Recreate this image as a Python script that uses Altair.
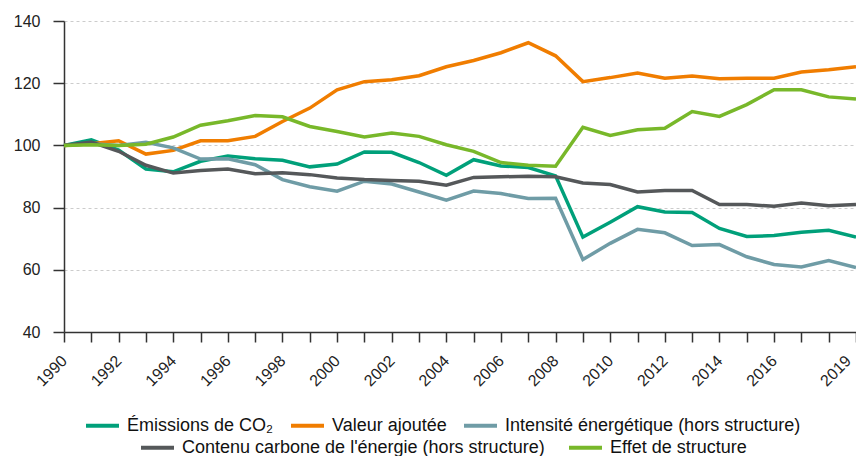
import altair as alt
import pandas as pd

years = list(range(1990, 2020))

series_names = [
    "Émissions de CO₂",
    "Valeur ajoutée",
    "Intensité énergétique (hors structure)",
    "Contenu carbone de l'énergie (hors structure)",
    "Effet de structure",
]
series_colors = ["#00a07a", "#f07d00", "#6f9ca6", "#55585a", "#78b82a"]

emissions = [100, 101.8, 98.5, 92.4, 91.5, 94.9, 96.6, 95.7, 95.2, 93.1, 94.0, 97.9, 97.8, 94.5, 90.4,
             95.4, 93.4, 92.9, 90.2, 70.5, 75.3, 80.3, 78.6, 78.4, 73.3, 70.7, 71.0, 72.1, 72.7, 70.5]
valeur = [100, 100.5, 101.5, 97.2, 98.4, 101.5, 101.5, 102.9, 107.7, 112.0, 117.9, 120.5, 121.1, 122.4, 125.3,
          127.3, 129.8, 133.0, 128.8, 120.5, 121.8, 123.3, 121.6, 122.3, 121.4, 121.6, 121.6, 123.6, 124.3, 125.3]
intensite = [100, 100.5, 100.0, 101.0, 99.2, 95.6, 95.7, 93.8, 89.0, 86.7, 85.3, 88.5, 87.6, 85.0, 82.4,
             85.3, 84.5, 82.9, 83.0, 63.3, 68.5, 73.0, 71.9, 67.8, 68.1, 64.2, 61.7, 60.9, 63.0, 60.7]
contenu = [100, 101.1, 98.1, 93.6, 91.1, 91.9, 92.4, 90.9, 91.2, 90.6, 89.5, 89.0, 88.7, 88.5, 87.2,
           89.7, 89.9, 90.1, 89.9, 87.9, 87.4, 85.0, 85.5, 85.5, 81.0, 81.0, 80.4, 81.5, 80.6, 81.0]
effet = [100, 100.2, 100.0, 100.4, 102.7, 106.5, 107.9, 109.6, 109.2, 106.1, 104.5, 102.7, 104.0, 102.9, 100.2,
         98.1, 94.5, 93.6, 93.3, 105.8, 103.2, 105.0, 105.5, 110.9, 109.3, 113.1, 117.9, 117.9, 115.6, 114.9]

y_ticks = [40, 60, 80, 100, 120, 140]

all_values = [emissions, valeur, intensite, contenu, effet]
rows = []
for name, vals in zip(series_names, all_values):
    for yr, v in zip(years, vals):
        rows.append({"year": yr, "value": v, "series": name})
df = pd.DataFrame(rows)

FONT = "Liberation Sans, Arial, sans-serif"
AXC = "#333333"

x_enc = alt.X(
    "year:Q",
    scale=alt.Scale(domain=[1990, 2019], nice=False, zero=False),
    axis=alt.Axis(
        values=years,
        labelExpr="(datum.value <= 2016 && datum.value % 2 == 0) || datum.value == 2019 ? '' + datum.value : ''",
        labelAngle=-45,
        labelAlign="right",
        labelBaseline="middle",
        labelOffset={"condition": {"test": "datum.value == 2019", "value": -8}, "value": 0},
        labelOverlap=False,
        labelFlush=False,
        labelBound=False,
        title=None,
        grid=False,
        tickSize=10,
        tickWidth=1.5,
        tickColor=AXC,
        domainColor=AXC,
        domainWidth=1.5,
        labelFontSize=16,
        labelFont=FONT,
        labelColor="#222222",
        labelPadding=16,
    ),
)
y_enc = alt.Y(
    "value:Q",
    scale=alt.Scale(domain=[40, 140], nice=False, zero=False),
    axis=alt.Axis(
        values=y_ticks,
        title=None,
        grid=True,
        gridDash=[3, 3],
        gridColor="#cccccc",
        gridWidth=1,
        tickSize=11,
        tickWidth=1.5,
        tickColor=AXC,
        domainColor=AXC,
        domainWidth=1.5,
        labelFontSize=16,
        labelFont=FONT,
        labelColor="#222222",
        labelPadding=13,
    ),
)

legend_common = dict(
    orient="none",
    direction="horizontal",
    title=None,
    symbolType="stroke",
    symbolSize=1089,
    symbolStrokeWidth=4,
    labelFontSize=18,
    labelFont=FONT,
    labelColor="#111111",
    labelLimit=600,
    labelOffset=6,
    padding=0,
)

first = series_names[:3]
second = series_names[3:]

base = alt.Chart(df).encode(x=x_enc, y=y_enc, order="year:Q")

layer_a = base.transform_filter(
    alt.FieldOneOfPredicate(field="series", oneOf=first)
).mark_line(strokeWidth=3.5).encode(
    color=alt.Color(
        "series:N",
        scale=alt.Scale(domain=first, range=series_colors[:3]),
        sort=first,
        legend=alt.Legend(legendX=20, legendY=386, columnPadding=9, **legend_common),
    )
)

layer_b = base.transform_filter(
    alt.FieldOneOfPredicate(field="series", oneOf=second)
).mark_line(strokeWidth=3.5).encode(
    stroke=alt.Stroke(
        "series:N",
        scale=alt.Scale(domain=second, range=series_colors[3:]),
        sort=second,
        legend=alt.Legend(legendX=75, legendY=408, columnPadding=16, **legend_common),
    )
)

chart = alt.layer(layer_a, layer_b).properties(
    width=792,
    height=311,
    autosize=alt.AutoSizeParams(type="none"),
    padding={"left": 56, "top": 13, "right": 0, "bottom": 128},
).configure_view(strokeWidth=0)

chart.save("out.html", embed_options={"renderer": "svg", "actions": False})
